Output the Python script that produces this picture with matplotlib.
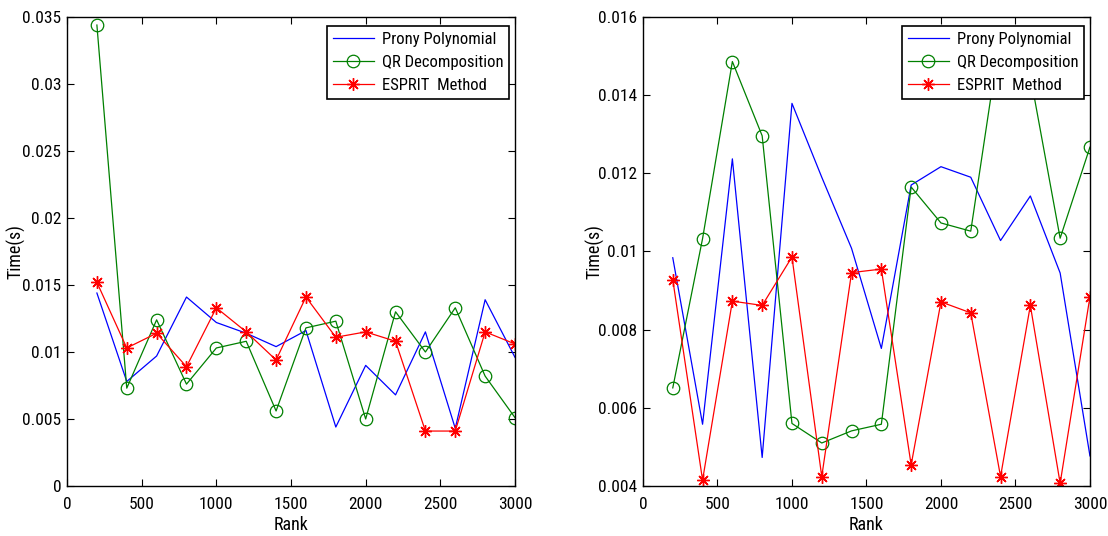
import matplotlib
matplotlib.use("Agg")
import matplotlib.pyplot as plt
from matplotlib import font_manager

names = {f.name for f in font_manager.fontManager.ttflist}
fam = ['Roboto Condensed', 'Archivo Narrow', 'Liberation Sans', 'DejaVu Sans']
fam = [f for f in fam if f in names] or ['DejaVu Sans']
plt.rcParams['font.family'] = fam

rank = [200, 400, 600, 800, 1000, 1200, 1400, 1600, 1800, 2000, 2200, 2400, 2600, 2800, 3000]

left_prony = [0.0144, 0.0078, 0.0097, 0.0141, 0.0122, 0.0114, 0.0104, 0.0116, 0.0044, 0.0090,
              0.0068, 0.0115, 0.0043, 0.0139, 0.0096]
left_qr = [0.0344, 0.0073, 0.0124, 0.0076, 0.0103, 0.0108, 0.0056, 0.0118, 0.0123, 0.0050,
           0.0130, 0.0100, 0.0133, 0.0082, 0.0051]
left_esprit = [0.0152, 0.0103, 0.0114, 0.0089, 0.0133, 0.0115, 0.0094, 0.0141, 0.0111, 0.0115,
               0.0108, 0.0041, 0.0041, 0.0115, 0.0106]

right_prony = [0.00984, 0.00558, 0.01237, 0.00473, 0.01379, 0.0119, 0.01008, 0.00752, 0.0117, 0.01217,
               0.0119, 0.01028, 0.01142, 0.00945, 0.00477]
right_qr = [0.00651, 0.01033, 0.01486, 0.01296, 0.0056, 0.0051, 0.00541, 0.00558, 0.01165, 0.01073,
            0.01052, 0.0156, 0.0145, 0.01034, 0.01267]
right_esprit = [0.00928, 0.00415, 0.00873, 0.00862, 0.00986, 0.00424, 0.00946, 0.00955, 0.00454, 0.00871,
                0.00843, 0.00424, 0.00862, 0.00407, 0.00884]

labels = ['Prony Polynomial', 'QR Decomposition', 'ESPRIT  Method']
xticks = [0, 500, 1000, 1500, 2000, 2500, 3000]
left_yticks = [0, 0.005, 0.01, 0.015, 0.02, 0.025, 0.03, 0.035]
left_yticklabels = ['0', '0.005', '0.01', '0.015', '0.02', '0.025', '0.03', '0.035']
right_yticks = [0.004, 0.006, 0.008, 0.01, 0.012, 0.014, 0.016]
right_yticklabels = ['0.004', '0.006', '0.008', '0.01', '0.012', '0.014', '0.016']

fig = plt.figure(figsize=(11.08, 5.36), dpi=100)
ax1 = fig.add_axes([0.0605, 0.0933, 0.4043, 0.875])
ax2 = fig.add_axes([0.5803, 0.0933, 0.4034, 0.875])

asterisk = (8, 2, 0)

def draw(ax, p, q, e, ylim, yt, ytl, ylab_x):
    ax.plot(rank, p, color='blue', lw=0.9, label=labels[0])
    ax.plot(rank, q, color='green', lw=0.9, marker='o', ms=9, mfc='none', mec='green',
            mew=0.9, label=labels[1])
    ax.plot(rank, e, color='red', lw=0.9, marker=asterisk, ms=9, mfc='red', mec='red',
            mew=1.0, label=labels[2])
    ax.set_xlim(0, 3000)
    ax.set_ylim(*ylim)
    ax.set_xticks(xticks)
    ax.set_xticklabels([str(v) for v in xticks])
    ax.set_yticks(yt)
    ax.set_yticklabels(ytl)
    ax.tick_params(direction='in', top=True, right=True, length=5, width=0.8,
                   labelsize=12.5)
    ax.tick_params(axis='x', pad=8)
    ax.tick_params(axis='y', pad=4)
    for s in ax.spines.values():
        s.set_linewidth(1.0)
    ax.set_xlabel('Rank', fontsize=13, labelpad=3)
    ax.set_ylabel('Time(s)', fontsize=13)
    ax.yaxis.set_label_coords(ylab_x, 0.5)
    leg = ax.legend(loc='upper right', bbox_to_anchor=(0.987, 0.98), borderaxespad=0,
                    fontsize=12, frameon=True, fancybox=False, numpoints=1,
                    edgecolor='black', framealpha=1,
                    handlelength=2.5, borderpad=0.35, labelspacing=0.48, handletextpad=0.45)
    leg.get_frame().set_linewidth(1.2)

draw(ax1, left_prony, left_qr, left_esprit, (0, 0.035), left_yticks, left_yticklabels, -0.092)
draw(ax2, right_prony, right_qr, right_esprit, (0.004, 0.016), right_yticks, right_yticklabels, -0.086)

fig.savefig('out.png', dpi=100)
